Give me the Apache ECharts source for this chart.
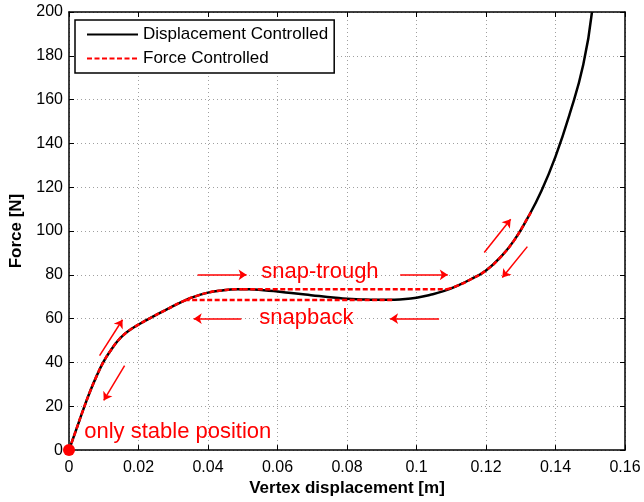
<!DOCTYPE html>
<html>
<head>
<meta charset="utf-8">
<script src="https://cdn.jsdelivr.net/npm/echarts@6/dist/echarts.min.js"></script>
<style>
  html, body { margin: 0; padding: 0; background: #fff; }
  #chart { width: 644px; height: 502px; }
</style>
</head>
<body>
<div id="chart"></div>
<script>
// Axis ticks
const xTicks = [0, 0.02, 0.04, 0.06, 0.08, 0.1, 0.12, 0.14, 0.16];
const yTicks = [0, 20, 40, 60, 80, 100, 120, 140, 160, 180, 200];

// Displacement-controlled force/displacement response
const dispX = [0, 0.002, 0.004, 0.006, 0.008, 0.010, 0.012, 0.014, 0.016, 0.018, 0.020,
  0.024, 0.028, 0.0334, 0.037, 0.040, 0.044, 0.048, 0.052, 0.056, 0.060, 0.064, 0.068,
  0.072, 0.076, 0.080, 0.084, 0.088, 0.092, 0.096, 0.100, 0.104, 0.108, 0.112, 0.116,
  0.120, 0.124, 0.128, 0.132, 0.136, 0.140, 0.144, 0.148, 0.1505];
const dispF = [0, 9, 18, 26.5, 34, 40.5, 45.5, 49.8, 53.0, 55.4, 57.3,
  60.8, 64.1, 68.4, 70.5, 71.9, 72.9, 73.4, 73.4, 73.0, 72.4, 71.7, 71.0,
  70.3, 69.7, 69.1, 68.8, 68.6, 68.6, 68.9, 69.6, 70.9, 72.7, 75.2, 78.3,
  82, 87.8, 95.5, 106, 118.5, 134, 153, 176, 200];

// Force-controlled path: rising branch up to the limit point
const forceRiseX = [0, 0.002, 0.004, 0.006, 0.008, 0.010, 0.012, 0.014, 0.016, 0.018, 0.020,
  0.024, 0.028, 0.0334, 0.037, 0.040, 0.044, 0.048, 0.050];
const forceRiseF = [0, 9, 18, 26.5, 34, 40.5, 45.5, 49.8, 53.0, 55.4, 57.3,
  60.8, 64.1, 68.4, 70.5, 71.9, 72.9, 73.4, 73.4];
// snap-through jump (loading)
const snapThroughX = [0.050, 0.1088];
const snapThroughF = [73.4, 73.4];
// stiffening branch after the jump
const forceUpperX = [0.1088, 0.112, 0.116, 0.120, 0.124, 0.128, 0.132, 0.133];
const forceUpperF = [73.4, 75.2, 78.3, 82, 87.8, 95.5, 106, 108.8];
// snap-back jump (unloading)
const snapBackX = [0.093, 0.0334];
const snapBackF = [68.5, 68.5];

// Direction arrows: [x0, y0, x1, y1]
const arrows = [
  [0.037, 80, 0.0511, 80],
  [0.0953, 80, 0.109, 80],
  [0.0496, 60, 0.0359, 60],
  [0.1065, 60, 0.0924, 60],
  [0.0088, 43.1, 0.0154, 59.5],
  [0.0160, 38.6, 0.0100, 22.7],
  [0.1195, 90.2, 0.1271, 105.4],
  [0.1319, 92.9, 0.1247, 78.8]
];

// Annotation texts and their anchor points
const noteText = ['snap-trough', 'snapback', 'only stable position'];
const noteX = [0.0722, 0.0683, 0.0313];
const noteF = [81.5, 60.3, 8.4];

const FONT = '"Liberation Sans", Arial, Helvetica, sans-serif';
const RED = '#ff0000';
const DASH = [5, 2.5];

const zip = (a, b) => a.map((v, i) => [v, b[i]]);

const axisCommon = {
  type: 'value',
  axisLine: { show: true, onZero: false, lineStyle: { color: '#000', width: 1.5 } },
  axisTick: { show: true, inside: true, length: 5, lineStyle: { color: '#000', width: 1 } }
};

const redLine = (data, smooth) => ({
  name: 'Force Controlled',
  type: 'line',
  data: data,
  smooth: smooth,
  symbol: 'none',
  lineStyle: { color: RED, width: 2.5, type: DASH },
  itemStyle: { color: RED },
  z: 3
});

const chart = echarts.init(document.getElementById('chart'), null, { renderer: 'canvas' });

chart.setOption({
  animation: false,
  backgroundColor: '#fff',
  grid: { left: 67, right: 19, top: 12, bottom: 49, containLabel: false },
  legend: {
    data: ['Displacement Controlled', 'Force Controlled'],
    orient: 'vertical',
    left: 75,
    top: 20,
    itemWidth: 51,
    itemHeight: 14,
    itemGap: 7,
    padding: [6, 6, 6, 11],
    backgroundColor: '#fff',
    borderColor: '#000',
    borderWidth: 1.5,
    borderRadius: 0,
    itemStyle: { opacity: 0 },
    textStyle: { fontFamily: FONT, fontSize: 17, color: '#000' }
  },
  xAxis: [
    Object.assign({}, axisCommon, {
      position: 'bottom',
      min: xTicks[0],
      max: xTicks[xTicks.length - 1],
      interval: xTicks[1] - xTicks[0],
      name: 'Vertex displacement [m]',
      nameLocation: 'middle',
      nameGap: 27,
      nameTextStyle: { fontFamily: FONT, fontSize: 17, fontWeight: 'bold', color: '#000' },
      axisLabel: { color: '#000', fontFamily: FONT, fontSize: 16, margin: 9 },
      splitLine: { show: true, lineStyle: { color: '#a0a0a0', width: 1, type: [1, 3] } }
    }),
    Object.assign({}, axisCommon, {
      position: 'top',
      min: xTicks[0],
      max: xTicks[xTicks.length - 1],
      interval: xTicks[1] - xTicks[0],
      axisLabel: { show: false },
      splitLine: { show: false }
    })
  ],
  yAxis: [
    Object.assign({}, axisCommon, {
      position: 'left',
      min: yTicks[0],
      max: yTicks[yTicks.length - 1],
      interval: yTicks[1] - yTicks[0],
      name: 'Force [N]',
      nameLocation: 'middle',
      nameGap: 44,
      nameTextStyle: { fontFamily: FONT, fontSize: 17, fontWeight: 'bold', color: '#000' },
      axisLabel: { color: '#000', fontFamily: FONT, fontSize: 16, margin: 6 },
      splitLine: { show: true, lineStyle: { color: '#a0a0a0', width: 1, type: [1, 3] } }
    }),
    Object.assign({}, axisCommon, {
      position: 'right',
      min: yTicks[0],
      max: yTicks[yTicks.length - 1],
      interval: yTicks[1] - yTicks[0],
      axisLabel: { show: false },
      splitLine: { show: false }
    })
  ],
  series: [
    {
      name: 'Displacement Controlled',
      type: 'line',
      data: zip(dispX, dispF),
      smooth: true,
      symbol: 'none',
      lineStyle: { color: '#000', width: 2.5 },
      itemStyle: { color: '#000' },
      z: 2
    },
    redLine(zip(forceRiseX, forceRiseF), true),
    redLine(zip(snapThroughX, snapThroughF), false),
    redLine(zip(forceUpperX, forceUpperF), true),
    redLine(zip(snapBackX, snapBackF), false),
    {
      name: 'arrows',
      type: 'lines',
      coordinateSystem: 'cartesian2d',
      xAxisIndex: 0,
      yAxisIndex: 0,
      symbol: ['none', 'arrow'],
      symbolSize: [0, 8],
      lineStyle: { color: RED, width: 1.5, opacity: 1, curveness: 0 },
      data: arrows.map(a => ({ coords: [[a[0], a[1]], [a[2], a[3]]] })),
      z: 4
    },
    {
      name: 'notes',
      type: 'scatter',
      symbolSize: 0,
      itemStyle: { opacity: 1, color: RED },
      data: noteText.map((t, i) => [noteX[i], noteF[i], t]),
      label: {
        show: true,
        position: 'inside',
        formatter: p => p.value[2],
        color: RED,
        textBorderWidth: 0,
        fontFamily: FONT,
        fontSize: 22
      },
      z: 5
    },
    {
      name: 'origin',
      type: 'scatter',
      data: [[0, 0]],
      symbol: 'circle',
      symbolSize: 12,
      itemStyle: { color: RED, opacity: 1 },
      clip: false,
      z: 10
    }
  ]
});
</script>
</body>
</html>
